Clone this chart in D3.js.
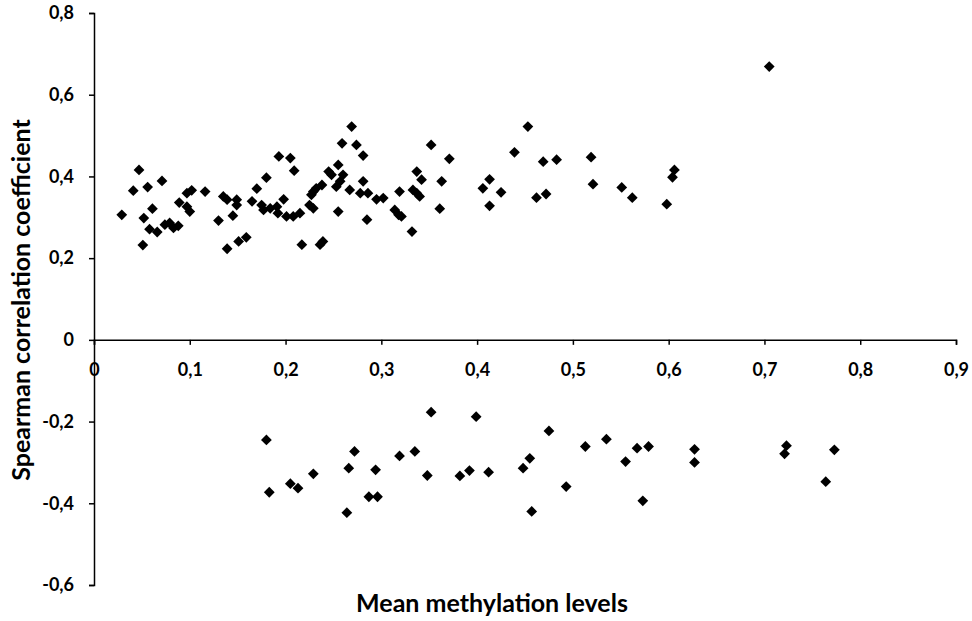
<!DOCTYPE html>
<html>
<head>
<meta charset="utf-8">
<script src="https://cdn.jsdelivr.net/npm/d3@7"></script>
<style>
  body { margin: 0; background: white; }
  svg { display: block; }
  .axis text { font-family: Lato, "Open Sans", sans-serif; font-weight: bold; font-size: 18px; fill: #000; }
  .axis path, .axis line { stroke: #000; stroke-width: 1.5; }
  .title { font-family: Lato, "Open Sans", sans-serif; font-weight: bold; font-size: 25px; fill: #000; }
</style>
</head>
<body>
<script>
var width = 972
var height = 621

// mean methylation levels (x) and spearman coefficients (y), positive group
var posX = [0.029, 0.041, 0.047, 0.051, 0.052, 0.056, 0.058, 0.061, 0.066, 0.071,
    0.074, 0.079, 0.088, 0.083, 0.089, 0.097, 0.102, 0.097, 0.100, 0.116,
    0.135, 0.139, 0.149, 0.130, 0.145, 0.149, 0.139, 0.151, 0.159, 0.180,
    0.170, 0.165, 0.175, 0.177, 0.184, 0.191, 0.192, 0.198, 0.193, 0.201,
    0.269, 0.259, 0.274, 0.281, 0.352, 0.371, 0.205, 0.209, 0.255, 0.245,
    0.248, 0.260, 0.257, 0.253, 0.238, 0.232, 0.229, 0.227, 0.281, 0.267,
    0.278, 0.286, 0.295, 0.302, 0.319, 0.333, 0.337, 0.340, 0.337, 0.342,
    0.363, 0.361, 0.225, 0.229, 0.208, 0.215, 0.255, 0.285, 0.314, 0.318,
    0.321, 0.332, 0.217, 0.236, 0.239, 0.453, 0.439, 0.469, 0.483, 0.519,
    0.606, 0.604, 0.413, 0.406, 0.425, 0.413, 0.462, 0.472, 0.521, 0.551,
    0.562, 0.598, 0.705]
var posY = [0.306, 0.365, 0.416, 0.232, 0.298, 0.374, 0.271, 0.321, 0.264, 0.389,
    0.282, 0.286, 0.279, 0.274, 0.336, 0.359, 0.366, 0.326, 0.314, 0.363,
    0.351, 0.343, 0.343, 0.292, 0.304, 0.330, 0.223, 0.241, 0.251, 0.397,
    0.370, 0.339, 0.330, 0.318, 0.322, 0.326, 0.310, 0.344, 0.449, 0.302,
    0.522, 0.481, 0.477, 0.451, 0.477, 0.443, 0.445, 0.414, 0.428, 0.412,
    0.404, 0.404, 0.388, 0.375, 0.379, 0.371, 0.363, 0.355, 0.388, 0.367,
    0.359, 0.359, 0.344, 0.347, 0.363, 0.367, 0.359, 0.351, 0.412, 0.392,
    0.388, 0.321, 0.330, 0.322, 0.302, 0.310, 0.314, 0.294, 0.318, 0.306,
    0.302, 0.265, 0.233, 0.233, 0.241, 0.522, 0.459, 0.436, 0.441, 0.447,
    0.416, 0.398, 0.393, 0.371, 0.361, 0.328, 0.348, 0.357, 0.381, 0.373,
    0.348, 0.332, 0.669]

// negative group
var negX = [0.180, 0.183, 0.205, 0.213, 0.229, 0.264, 0.266, 0.272, 0.287, 0.294,
    0.296, 0.319, 0.335, 0.348, 0.352, 0.382, 0.392, 0.399, 0.412, 0.448,
    0.455, 0.457, 0.475, 0.493, 0.513, 0.535, 0.555, 0.567, 0.573, 0.579,
    0.627, 0.627, 0.721, 0.723, 0.764, 0.773]
var negY = [-0.245, -0.373, -0.352, -0.363, -0.328, -0.423, -0.314, -0.273, -0.384, -0.318,
    -0.384, -0.284, -0.273, -0.332, -0.177, -0.333, -0.320, -0.188, -0.324, -0.314,
    -0.290, -0.420, -0.223, -0.359, -0.261, -0.243, -0.298, -0.265, -0.394, -0.261,
    -0.268, -0.300, -0.279, -0.259, -0.347, -0.269]

var xTicks = [0, 0.1, 0.2, 0.3, 0.4, 0.5, 0.6, 0.7, 0.8, 0.9]
var yTicks = [-0.6, -0.4, -0.2, 0, 0.2, 0.4, 0.6, 0.8]

// excel style decimal comma
function commaFmt(d) {
    if (Math.abs(d) < 1e-9) return "0"
    return d3.format(".1f")(d).replace(".", ",").replace("\u2212", "-")
}

var points = posX.map(function (x, i) { return { x: x, y: posY[i] } })
    .concat(negX.map(function (x, i) { return { x: x, y: negY[i] } }))

var svg = d3.select("body")
    .append("svg")
    .attr("width", width)
    .attr("height", height)

var x = d3.scaleLinear().domain([0, 0.9]).range([94, 956])
var y = d3.scaleLinear().domain([-0.6, 0.8]).range([585, 13])

// horizontal axis sits on y = 0
svg.append("g")
    .attr("class", "axis")
    .attr("transform", "translate(0," + y(0) + ")")
    .call(d3.axisBottom(x).tickValues(xTicks).tickFormat(commaFmt).tickSize(5).tickSizeOuter(5).tickPadding(18))

svg.append("g")
    .attr("class", "axis")
    .attr("transform", "translate(" + x(0) + ",0)")
    .call(d3.axisLeft(y).tickValues(yTicks).tickFormat(commaFmt).tickSize(5).tickSizeOuter(5).tickPadding(15))

svg.selectAll("path.pt")
    .data(points)
    .enter()
    .append("path")
    .attr("class", "pt")
    .attr("d", d3.symbol(d3.symbolSquare).size(58))
    .attr("transform", function (d) { return "translate(" + x(d.x) + "," + y(d.y) + ") rotate(45)" })
    .attr("fill", "#000")

svg.append("text")
    .attr("class", "title")
    .attr("text-anchor", "middle")
    .attr("x", 492)
    .attr("y", 612)
    .text("Mean methylation levels")

svg.append("text")
    .attr("class", "title")
    .attr("text-anchor", "middle")
    .attr("transform", "translate(30,300) rotate(-90)")
    .text("Spearman correlation coefficient")
</script>
</body>
</html>
